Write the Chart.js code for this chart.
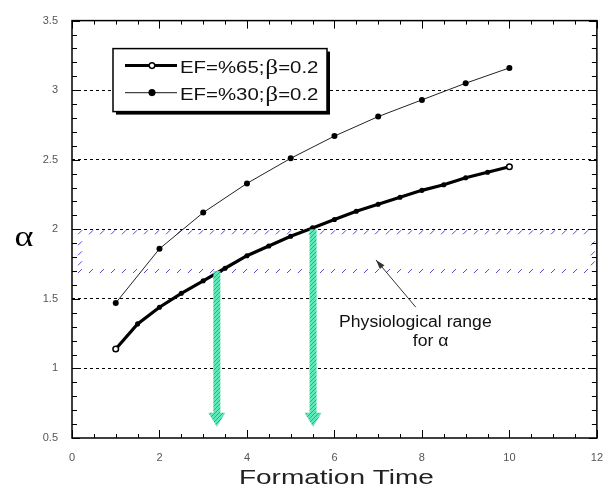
<!DOCTYPE html>
<html>
<head>
<meta charset="utf-8">
<script src="https://cdn.jsdelivr.net/npm/chart.js@4.4.0/dist/chart.umd.min.js"></script>
<style>
  html, body { margin: 0; padding: 0; background: #fff; }
  #wrap { width: 608px; height: 491px; }
</style>
</head>
<body>
<div id="wrap"><canvas id="alphaChart" width="608" height="491"></canvas></div>
<script>
// alpha vs formation time, two ejection fractions

const timeEf30 = [1, 2, 3, 4, 5, 6, 7, 8, 9, 10];
const alphaEf30 = [1.47, 1.86, 2.12, 2.33, 2.51, 2.67, 2.81, 2.93, 3.05, 3.16];

const timeEf65 = [1, 1.5, 2, 2.5, 3, 3.5, 4, 4.5, 5, 5.5, 6, 6.5, 7, 7.5, 8, 8.5, 9, 9.5, 10];
const alphaEf65 = [1.14, 1.32, 1.44, 1.54, 1.63, 1.72, 1.81, 1.88, 1.95, 2.01, 2.07, 2.13, 2.18, 2.23, 2.28, 2.32, 2.37, 2.41, 2.45];

const xTicks = [0, 2, 4, 6, 8, 10, 12];
const yTicks = [0.5, 1, 1.5, 2, 2.5, 3, 3.5];
const gridLevels = [1, 1.5, 2, 2.5, 3];

// physiological range of alpha and where each curve enters it
const physioRange = [1.7, 2.0];
const arrowTimes = [3.3, 5.5];
const arrowTip = 0.58;

const legendLabels = ['EF=%65; ', 'EF=%30; '];

function makeHatch(ctx) {
    const c = document.createElement('canvas');
    c.width = 4; c.height = 4;
    const g = c.getContext('2d');
    g.fillStyle = '#5fe8b8';
    g.fillRect(0, 0, 4, 4);
    g.strokeStyle = '#6b8f80';
    g.lineWidth = 1;
    g.beginPath();
    g.moveTo(0, 4); g.lineTo(4, 0);
    g.stroke();
    return ctx.createPattern(c, 'repeat');
}

const decor = {
    id: 'decor',
    beforeDatasetsDraw(chart) {
        const { ctx, chartArea: a, scales: { y } } = chart;
        // hatched band for the physiological range
        const top = y.getPixelForValue(physioRange[1]) + 3;
        const bot = y.getPixelForValue(physioRange[0]);
        const left = a.left + 8, right = a.right - 4;
        ctx.save();
        ctx.setLineDash([]);
        ctx.strokeStyle = '#4a4ad0';
        ctx.lineWidth = 1;
        ctx.beginPath();
        for (let px = left; px <= right; px += 11) {
            ctx.moveTo(px - 2, top + 2); ctx.lineTo(px + 2, top - 2);
            ctx.moveTo(px - 2, bot + 2); ctx.lineTo(px + 2, bot - 2);
        }
        for (let py = top + 11; py < bot - 4; py += 10) {
            ctx.moveTo(left - 2, py + 2); ctx.lineTo(left + 2, py - 2);
            ctx.moveTo(right - 2, py + 2); ctx.lineTo(right + 2, py - 2);
        }
        ctx.stroke();
        ctx.restore();
    },
    afterDatasetsDraw(chart) {
        const { ctx, scales: { x, y } } = chart;
        ctx.save();
        ctx.setLineDash([]);

        // green arrows down to the time axis
        const pat = makeHatch(ctx);
        arrowTimes.forEach((t, i) => {
            const px = x.getPixelForValue(t);
            const y0 = y.getPixelForValue(physioRange[i]);
            const y1 = y.getPixelForValue(arrowTip);
            ctx.fillStyle = pat;
            ctx.fillRect(px - 3, y0, 7, y1 - y0 - 12);
            ctx.beginPath();
            ctx.moveTo(px - 8, y1 - 14);
            ctx.lineTo(px + 9, y1 - 14);
            ctx.lineTo(px + 0.5, y1);
            ctx.closePath();
            ctx.fill();
        });

        // annotation
        const ax0 = x.getPixelForValue(7.86), ay0 = y.getPixelForValue(1.44);
        const ax1 = x.getPixelForValue(6.95), ay1 = y.getPixelForValue(1.78);
        ctx.strokeStyle = '#333';
        ctx.fillStyle = '#333';
        ctx.lineWidth = 1;
        ctx.beginPath(); ctx.moveTo(ax0, ay0); ctx.lineTo(ax1, ay1); ctx.stroke();
        const ang = Math.atan2(ay1 - ay0, ax1 - ax0);
        ctx.beginPath();
        ctx.moveTo(ax1, ay1);
        ctx.lineTo(ax1 - 10 * Math.cos(ang - 0.3), ay1 - 10 * Math.sin(ang - 0.3));
        ctx.lineTo(ax1 - 10 * Math.cos(ang + 0.3), ay1 - 10 * Math.sin(ang + 0.3));
        ctx.closePath(); ctx.fill();

        ctx.fillStyle = '#111';
        ctx.font = '16px Arial';
        ctx.textAlign = 'center';
        ctx.textBaseline = 'alphabetic';
        ctx.save();
        ctx.translate(x.getPixelForValue(7.85), y.getPixelForValue(1.3));
        ctx.scale(1.1, 1);
        ctx.fillText('Physiological range', 0, 0);
        ctx.restore();
        ctx.save();
        ctx.translate(x.getPixelForValue(8.2), y.getPixelForValue(1.16));
        ctx.scale(1.1, 1);
        ctx.fillText('for α', 0, 0);
        ctx.restore();

        ctx.restore();
    },
    afterDraw(chart) {
        const { ctx, chartArea: a, scales: { x, y } } = chart;
        ctx.save();
        ctx.setLineDash([]);

        // frame and inward ticks on all four sides
        ctx.strokeStyle = '#000';
        ctx.lineWidth = 1.5;
        ctx.strokeRect(a.left, a.top, a.right - a.left, a.bottom - a.top);
        ctx.lineWidth = 1;
        ctx.beginPath();
        for (let k = 0; k <= 24; k++) {
            const px = Math.round(x.getPixelForValue(k * 0.5)) + 0.5;
            const len = k % 4 === 0 ? 8 : 4;
            ctx.moveTo(px, a.bottom); ctx.lineTo(px, a.bottom - len);
            ctx.moveTo(px, a.top); ctx.lineTo(px, a.top + len);
        }
        for (let k = 0; k <= 30; k++) {
            const py = Math.round(y.getPixelForValue(0.5 + k * 0.1)) + 0.5;
            const len = k % 5 === 0 ? 8 : 5;
            ctx.moveTo(a.left, py); ctx.lineTo(a.left + len, py);
            ctx.moveTo(a.right, py); ctx.lineTo(a.right - len, py);
        }
        ctx.stroke();

        // legend box with drop shadow
        const lx = a.left + 41, ly = a.top + 28, lw = 214, lh = 63;
        ctx.fillStyle = '#000';
        ctx.fillRect(lx + 3, ly + 3, lw, lh);
        ctx.fillStyle = '#fff';
        ctx.fillRect(lx, ly, lw, lh);
        ctx.lineWidth = 1.5;
        ctx.strokeRect(lx, ly, lw, lh);
        legendLabels.forEach((lab, i) => {
            const ry = ly + 17 + i * 27;
            ctx.strokeStyle = i === 0 ? '#000' : '#444';
            ctx.lineWidth = i === 0 ? 3 : 1.2;
            ctx.beginPath(); ctx.moveTo(lx + 12, ry); ctx.lineTo(lx + 64, ry); ctx.stroke();
            ctx.beginPath(); ctx.arc(lx + 39, ry, 2.8, 0, Math.PI * 2);
            ctx.fillStyle = i === 0 ? '#fff' : '#000';
            ctx.fill();
            ctx.lineWidth = 1.5; ctx.strokeStyle = '#000'; ctx.stroke();

            ctx.save();
            ctx.translate(lx + 67, ry + 7);
            ctx.scale(1.2, 1);
            ctx.fillStyle = '#111';
            ctx.textAlign = 'left';
            ctx.font = '17px Arial';
            ctx.fillText(lab, 0, 0);
            let w = ctx.measureText(lab).width - 4;
            ctx.font = '21px "Liberation Serif"';
            ctx.fillText('β', w, 1);
            w += ctx.measureText('β').width;
            ctx.font = '17px Arial';
            ctx.fillText('=0.2', w, 0);
            ctx.restore();
        });

        // axis titles
        ctx.save();
        ctx.fillStyle = '#000';
        ctx.font = '30px "Liberation Serif"';
        ctx.textAlign = 'center';
        ctx.textBaseline = 'middle';
        ctx.translate(24, 238);
        ctx.scale(1.2, 1);
        ctx.fillText('α', 0, 0);
        ctx.restore();

        ctx.save();
        ctx.fillStyle = '#222';
        ctx.font = '20px Arial';
        ctx.textAlign = 'center';
        ctx.textBaseline = 'middle';
        ctx.translate((a.left + a.right) / 2 + 2, 478);
        ctx.scale(1.4, 1);
        ctx.fillText('Formation Time', 0, 0);
        ctx.restore();

        ctx.restore();
    }
};

new Chart(document.getElementById('alphaChart'), {
    type: 'line',
    data: {
        datasets: [{
            label: 'EF=%65; β=0.2',
            data: timeEf65.map((t, i) => ({ x: t, y: alphaEf65[i] })),
            borderColor: '#000',
            borderWidth: 3.2,
            pointRadius: ctx => (ctx.dataIndex === 0 || ctx.dataIndex === timeEf65.length - 1) ? 2.8 : 1.8,
            pointBackgroundColor: ctx => (ctx.dataIndex === 0 || ctx.dataIndex === timeEf65.length - 1) ? '#fff' : '#000',
            pointBorderColor: '#000',
            pointBorderWidth: 1.5,
            tension: 0
        }, {
            label: 'EF=%30; β=0.2',
            data: timeEf30.map((t, i) => ({ x: t, y: alphaEf30[i] })),
            borderColor: '#222',
            borderWidth: 1,
            pointRadius: 3,
            pointBackgroundColor: '#000',
            pointBorderColor: '#000',
            pointBorderWidth: 0,
            tension: 0
        }]
    },
    options: {
        responsive: false,
        animation: false,
        devicePixelRatio: 1,
        layout: { padding: { left: 0, right: 0, top: 8, bottom: 0 } },
        plugins: {
            legend: { display: false },
            tooltip: { enabled: false }
        },
        scales: {
            x: {
                type: 'linear',
                min: 0,
                max: 12,
                afterBuildTicks: s => { s.ticks = xTicks.map(v => ({ value: v })); },
                afterFit: s => { s.height = 53; },
                grid: { display: false },
                border: { display: false },
                ticks: {
                    font: { family: 'Arial', size: 11 },
                    color: '#555',
                    padding: 5,
                    maxRotation: 0,
                    callback: v => String(v)
                }
            },
            y: {
                min: 0.5,
                max: 3.5,
                afterBuildTicks: s => { s.ticks = yTicks.map(v => ({ value: v })); },
                afterFit: s => { s.width = 72; },
                grid: {
                    drawTicks: false,
                    color: ctx => gridLevels.includes(ctx.tick && ctx.tick.value) ? '#000' : 'rgba(0,0,0,0)',
                    lineWidth: 1
                },
                border: { display: false, dash: [3, 3] },
                ticks: {
                    font: { family: 'Arial', size: 11 },
                    color: '#555',
                    padding: 14,
                    callback: v => String(v)
                }
            }
        }
    },
    plugins: [decor]
});
</script>
</body>
</html>
